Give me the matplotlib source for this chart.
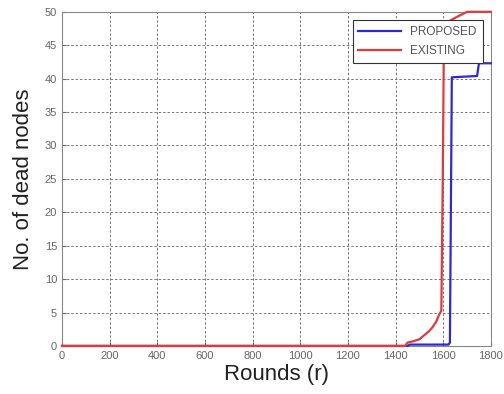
import matplotlib
matplotlib.use("Agg")
import matplotlib.pyplot as plt

plt.rcParams['font.family'] = ['Liberation Sans', 'DejaVu Sans']

rounds_existing = [0, 1440, 1450, 1475, 1500, 1520, 1540, 1555, 1570, 1582, 1592, 1598, 1603, 1620, 1655, 1700, 1800]
dead_existing = [0, 0, 0.5, 0.7, 1.0, 1.6, 2.2, 2.8, 3.6, 4.6, 5.3, 25, 47, 48.5, 49.2, 50, 50]

rounds_proposed = [0, 1450, 1460, 1622, 1628, 1632, 1636, 1742, 1750, 1800]
dead_proposed = [0, 0, 0.2, 0.2, 0.5, 20, 40.2, 40.4, 42.3, 42.3]

xticks = [0, 200, 400, 600, 800, 1000, 1200, 1400, 1600, 1800]
yticks = [0, 5, 10, 15, 20, 25, 30, 35, 40, 45, 50]

fig = plt.figure(figsize=(5.04, 3.94), dpi=100)
ax = fig.add_axes([0.123, 0.122, 0.851, 0.848])

ax.plot(rounds_proposed, dead_proposed, color='#2a2ad8', lw=1.6, label='PROPOSED', clip_on=False, zorder=3)
ax.plot(rounds_existing, dead_existing, color='#e23a3a', lw=1.6, label='EXISTING', clip_on=False, zorder=4)

ax.set_xlim(0, 1800)
ax.set_ylim(0, 50)
ax.set_xticks(xticks)
ax.set_yticks(yticks)
ax.tick_params(labelsize=8, colors='#666666', direction='in', length=3)
ax.grid(True, linestyle=(0, (2.5, 2)), color='#777777', lw=0.7)
for s in ax.spines.values():
    s.set_color('#888888')

ax.set_xlabel('Rounds (r)', fontsize=16, color='#222222', labelpad=2)
ax.set_ylabel('No. of dead nodes', fontsize=16, color='#222222', labelpad=8)

leg = ax.legend(loc='upper right', fontsize=8.5, frameon=True, fancybox=False,
                edgecolor='#333333', handlelength=3.6, borderpad=0.5,
                labelspacing=0.6, borderaxespad=0.7, framealpha=1)
leg.set_zorder(5)
leg.get_frame().set_linewidth(0.8)
for t in leg.get_texts():
    t.set_color('#555555')

fig.savefig('out.png', dpi=100)
